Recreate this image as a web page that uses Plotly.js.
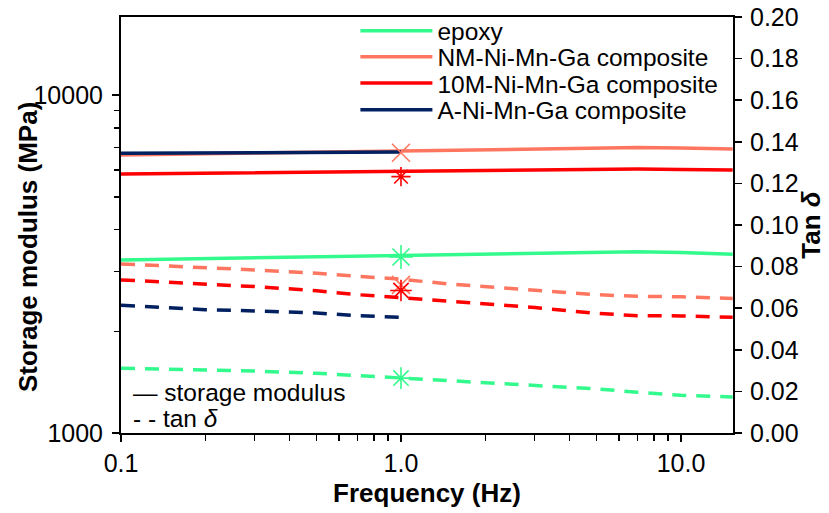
<!DOCTYPE html>
<html>
<head>
<meta charset="utf-8">
<script src="https://cdn.plot.ly/plotly-3.0.1.min.js"></script>
<style>html,body{margin:0;padding:0;background:#fff;}#chart{width:829px;height:513px;}</style>
</head>
<body>
<div id="chart"></div>
<script>
// ---- data ----
const freq = [0.1, 0.2, 0.3, 0.5, 0.7, 1, 1.5, 2, 3, 5, 7, 10, 15.3];
const freqA = [0.1, 0.2, 0.3, 0.5, 0.7, 1];

const storageEpoxy = [3250, 3280, 3300, 3325, 3345, 3362, 3385, 3400, 3420, 3435, 3440, 3420, 3380];
const storageNM    = [6645, 6700, 6730, 6770, 6810, 6842, 6880, 6910, 6940, 6975, 6990, 6970, 6920];
const storage10M   = [5838, 5870, 5890, 5920, 5950, 5972, 5990, 6005, 6020, 6035, 6040, 6025, 6000];
const storageA     = [6722, 6740, 6750, 6765, 6775, 6786];

const tanEpoxy = [0.0311, 0.0304, 0.0298, 0.0287, 0.0276, 0.0264, 0.0252, 0.0244, 0.0231, 0.0212, 0.0196, 0.0181, 0.0173];
const tanNM    = [0.0813, 0.0797, 0.0784, 0.0768, 0.0755, 0.0739, 0.0716, 0.0703, 0.0688, 0.0665, 0.0657, 0.0655, 0.0647];
const tan10M   = [0.0736, 0.0718, 0.0704, 0.0684, 0.0665, 0.0651, 0.0633, 0.0623, 0.0603, 0.0575, 0.0564, 0.0563, 0.0556];
const tanA     = [0.0614, 0.0593, 0.0587, 0.0577, 0.0564, 0.0556];

const markFreq = [1];
const markStorageNM = [6750];
const markTanNM = [0.0712];
const markStorage10M = [5733];
const markTan10M = [0.0685];
const markStorageEpoxy = [3317];
const markTanEpoxy = [0.0264];

const seriesNames = ['epoxy', 'NM-Ni-Mn-Ga composite', '10M-Ni-Mn-Ga composite', 'A-Ni-Mn-Ga composite'];
const xTickVals = [0.1, 1, 10];
const xTickText = ['0.1', '1.0', '10.0'];
const yTickVals = [1000, 10000];
const yTickText = ['1000', '10000'];

// ---- styles ----
const C = {epoxy: '#33FA8C', nm: '#FF7660', m10: '#FF0000', a: '#002060'};
const FONT = 'Liberation Sans, Arial, sans-serif';
const LW = 3.5;
const DASH = '14px,10px';
const TICKSIZE = 25;
const TITLESIZE = 26;
const LEGSIZE = 24.5;

function solid(x, y, name, color, leg) {
  return {x: x, y: y, name: name, type: 'scatter', mode: 'lines', yaxis: 'y',
    line: {color: color, width: LW}, showlegend: true, legend: leg};
}
function dashed(x, y, color) {
  return {x: x, y: y, type: 'scatter', mode: 'lines', yaxis: 'y2',
    line: {color: color, width: LW, dash: DASH}, showlegend: false, hoverinfo: 'skip'};
}
function mark(x, y, color, symbol, size, axis) {
  return {x: x, y: y, type: 'scatter', mode: 'markers', yaxis: axis, showlegend: false,
    marker: {symbol: symbol, size: size, color: color, line: {color: color, width: 1.6}}};
}

const data = [
  dashed(freq, tanEpoxy, C.epoxy),
  dashed(freq, tanNM, C.nm),
  dashed(freq, tan10M, C.m10),
  dashed(freqA, tanA, C.a),
  solid(freq, storageEpoxy, seriesNames[0], C.epoxy, 'legend'),
  solid(freq, storageNM, seriesNames[1], C.nm, 'legend2'),
  solid(freq, storage10M, seriesNames[2], C.m10, 'legend3'),
  solid(freqA, storageA, seriesNames[3], C.a, 'legend4'),
  mark(markFreq, markStorageNM, C.nm, 'x-thin-open', 18, 'y'),
  mark(markFreq, markTanNM, C.nm, 'x-thin-open', 18, 'y2'),
  mark(markFreq, markStorage10M, C.m10, 'asterisk-open', 16, 'y'),
  mark(markFreq, markTan10M, C.m10, 'asterisk-open', 18, 'y2'),
  mark(markFreq, markStorageEpoxy, C.epoxy, 'asterisk-open', 20, 'y'),
  mark(markFreq, markTanEpoxy, C.epoxy, 'asterisk-open', 18, 'y2')
];

function leg(yc) {
  return {x: 0.383, y: yc, xanchor: 'left', yanchor: 'middle', bgcolor: 'rgba(0,0,0,0)',
    borderwidth: 0, font: {family: FONT, size: LEGSIZE, color: '#000'}, itemwidth: 72};
}

const layout = {
  width: 829, height: 513,
  margin: {l: 121, r: 96, t: 17, b: 80, autoexpand: false},
  paper_bgcolor: '#fff', plot_bgcolor: '#fff',
  font: {family: FONT, size: TICKSIZE, color: '#000'},
  showlegend: true,
  legend: leg(0.967),
  legend2: leg(0.904),
  legend3: leg(0.841),
  legend4: leg(0.777),
  xaxis: {
    type: 'log', range: [-1, Math.log10(15.34)], automargin: false,
    showline: true, linecolor: '#000', linewidth: 2, mirror: true,
    showgrid: false, zeroline: false,
    ticks: 'outside', ticklen: 7, tickwidth: 1.5, tickcolor: '#000',
    tickvals: xTickVals, ticktext: xTickText,
    minor: {ticks: 'outside', ticklen: 6, tickwidth: 1.5, tickcolor: '#000', dtick: 'D1', showgrid: false},
    tickfont: {family: FONT, size: TICKSIZE},
    title: {text: 'Frequency (Hz)', font: {family: FONT, size: TITLESIZE, weight: 'bold'}, standoff: 8}
  },
  yaxis: {
    type: 'log', range: [3, 4.2308], automargin: false,
    showline: true, linecolor: '#000', linewidth: 2,
    showgrid: false, zeroline: false,
    ticks: 'outside', ticklen: 7, tickwidth: 1.5, tickcolor: '#000',
    tickvals: yTickVals, ticktext: yTickText, ticklabelstandoff: 4,
    minor: {ticks: 'outside', ticklen: 5, tickwidth: 1.5, tickcolor: '#000', dtick: 'D1', showgrid: false},
    tickfont: {family: FONT, size: TICKSIZE}
  },
  yaxis2: {
    overlaying: 'y', side: 'right', range: [0, 0.2], dtick: 0.02, tickformat: '.2f', automargin: false,
    showline: true, linecolor: '#000', linewidth: 2,
    showgrid: false, zeroline: false, ticklabelstandoff: 3,
    ticks: 'outside', ticklen: 7, tickwidth: 1.5, tickcolor: '#000',
    tickfont: {family: FONT, size: TICKSIZE}
  },
  annotations: [
    {xref: 'paper', yref: 'paper', x: -0.152, y: 0.447, xanchor: 'center', yanchor: 'middle', showarrow: false,
     textangle: -90, text: '<b>Storage modulus (MPa)</b>', font: {family: FONT, size: TITLESIZE, color: '#000'}},
    {xref: 'paper', yref: 'paper', x: 1.127, y: 0.5, xanchor: 'center', yanchor: 'middle', showarrow: false,
     textangle: -90, text: '<b>Tan</b> <b><i>δ</i></b>', font: {family: FONT, size: TITLESIZE, color: '#000'}},
    {xref: 'paper', yref: 'paper', x: 0.016, y: 0.098, xanchor: 'left', yanchor: 'middle', showarrow: false,
     text: '— storage modulus', font: {family: FONT, size: LEGSIZE, color: '#000'}},
    {xref: 'paper', yref: 'paper', x: 0.016, y: 0.036, xanchor: 'left', yanchor: 'middle', showarrow: false,
     text: '- - tan <i>δ</i>', font: {family: FONT, size: LEGSIZE, color: '#000'}}
  ]
};

Plotly.newPlot('chart', data, layout, {displayModeBar: false, staticPlot: true});
</script>
</body>
</html>
